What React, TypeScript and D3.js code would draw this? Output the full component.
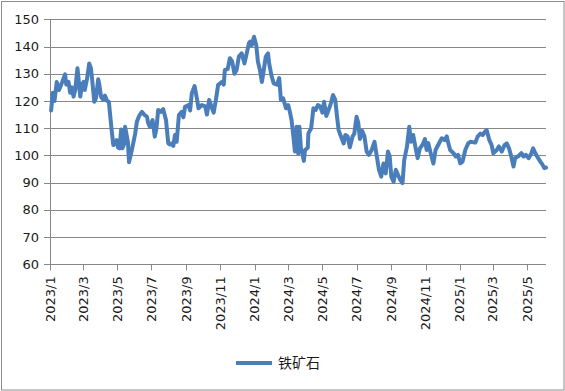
import React from 'react';
import * as d3 from 'd3';

// 铁矿石 price series
const dates = [
  '2023-01-03', '2023-01-06', '2023-01-09', '2023-01-13', '2023-01-17', '2023-01-21', '2023-01-28', '2023-01-30',
  '2023-02-03', '2023-02-06', '2023-02-09', '2023-02-12', '2023-02-15', '2023-02-19', '2023-02-21', '2023-02-24',
  '2023-02-27', '2023-03-02', '2023-03-04', '2023-03-08', '2023-03-12', '2023-03-15', '2023-03-17', '2023-03-21',
  '2023-03-24', '2023-03-28', '2023-03-30', '2023-04-02', '2023-04-06', '2023-04-09', '2023-04-13', '2023-04-16',
  '2023-04-21', '2023-04-24', '2023-04-27', '2023-04-30', '2023-05-02', '2023-05-05', '2023-05-08', '2023-05-10',
  '2023-05-13', '2023-05-15', '2023-05-20', '2023-05-22', '2023-05-27', '2023-05-30', '2023-06-02', '2023-06-05',
  '2023-06-09', '2023-06-14', '2023-06-18', '2023-06-23', '2023-06-25', '2023-06-28', '2023-07-03', '2023-07-07',
  '2023-07-10', '2023-07-13', '2023-07-18', '2023-07-22', '2023-07-27', '2023-07-31', '2023-08-03', '2023-08-06',
  '2023-08-09', '2023-08-12', '2023-08-15', '2023-08-19', '2023-08-24', '2023-08-27', '2023-08-30', '2023-09-05',
  '2023-09-08', '2023-09-11', '2023-09-16', '2023-09-20', '2023-09-23', '2023-09-29', '2023-10-05', '2023-10-08',
  '2023-10-12', '2023-10-17', '2023-10-20', '2023-10-24', '2023-10-28', '2023-11-04', '2023-11-07', '2023-11-09',
  '2023-11-14', '2023-11-18', '2023-11-22', '2023-11-26', '2023-11-30', '2023-12-04', '2023-12-09', '2023-12-14',
  '2023-12-18', '2023-12-22', '2023-12-24', '2023-12-27', '2023-12-31', '2024-01-04', '2024-01-07', '2024-01-11',
  '2024-01-14', '2024-01-17', '2024-01-21', '2024-01-25', '2024-01-27', '2024-01-31', '2024-02-04', '2024-02-10',
  '2024-02-14', '2024-02-17', '2024-02-21', '2024-02-26', '2024-03-01', '2024-03-04', '2024-03-07', '2024-03-10',
  '2024-03-13', '2024-03-16', '2024-03-19', '2024-03-21', '2024-03-24', '2024-03-26', '2024-03-29', '2024-03-31',
  '2024-04-05', '2024-04-06', '2024-04-11', '2024-04-15', '2024-04-19', '2024-04-23', '2024-04-27', '2024-05-01',
  '2024-05-04', '2024-05-08', '2024-05-12', '2024-05-16', '2024-05-20', '2024-05-24', '2024-05-27', '2024-05-30',
  '2024-06-03', '2024-06-08', '2024-06-11', '2024-06-15', '2024-06-19', '2024-06-24', '2024-06-27', '2024-07-01',
  '2024-07-04', '2024-07-07', '2024-07-11', '2024-07-15', '2024-07-19', '2024-07-23', '2024-07-28', '2024-08-02',
  '2024-08-06', '2024-08-10', '2024-08-14', '2024-08-18', '2024-08-22', '2024-08-26', '2024-08-29', '2024-09-01',
  '2024-09-05', '2024-09-09', '2024-09-13', '2024-09-17', '2024-09-21', '2024-09-24', '2024-09-29', '2024-10-03',
  '2024-10-06', '2024-10-10', '2024-10-15', '2024-10-18', '2024-10-22', '2024-10-27', '2024-10-31', '2024-11-03',
  '2024-11-06', '2024-11-11', '2024-11-15', '2024-11-19', '2024-11-24', '2024-11-30', '2024-12-05', '2024-12-09',
  '2024-12-11', '2024-12-15', '2024-12-21', '2024-12-25', '2024-12-29', '2025-01-02', '2025-01-06', '2025-01-11',
  '2025-01-16', '2025-01-20', '2025-01-29', '2025-02-02', '2025-02-07', '2025-02-11', '2025-02-15', '2025-02-18',
  '2025-02-23', '2025-02-27', '2025-03-02', '2025-03-08', '2025-03-12', '2025-03-17', '2025-03-22', '2025-03-26',
  '2025-03-30', '2025-04-03', '2025-04-07', '2025-04-10', '2025-04-16', '2025-04-21', '2025-04-25', '2025-04-29',
  '2025-05-04', '2025-05-09', '2025-05-12', '2025-05-16', '2025-05-21', '2025-05-25', '2025-05-29', '2025-06-01',
  '2025-06-04',
];

const ironOre = [
  116.5, 123, 120, 127, 124, 126, 129.8, 126,
  127, 123, 125, 121.6, 124, 132, 128, 121.6,
  126, 127, 124, 128, 133.8, 132, 128.3, 119.7,
  121, 128, 126, 121.6, 120.4, 122, 120, 119.7,
  109.3, 103.8, 104.5, 105.6, 103, 102.6, 109.5, 102.6,
  104, 110.5, 105, 97.5, 102, 105, 108, 112.4,
  114.5, 116, 115, 114.2, 112, 110.5, 113, 106.9,
  110, 116.7, 116, 117, 113, 104.4, 104, 104.4,
  103.5, 107.5, 105, 114.8, 116, 114, 117.9, 118.5,
  116.5, 122.8, 125.5, 121, 117.3, 118.5, 118, 115,
  120.4, 117.4, 115.7, 120.4, 125.9, 127, 126, 131.4,
  131.7, 135.7, 134.5, 130, 131.4, 136.3, 137.5, 133.8,
  137.5, 141.2, 141.8, 140.5, 143.6, 140.5, 134.4, 131,
  127, 130.8, 136.3, 137.5, 133.8, 129.5, 126.5, 126,
  128.4, 120.4, 121, 117.3, 118.5, 116, 113, 107.5,
  101.4, 110.5, 100.7, 110.5, 102, 101, 98, 102,
  102.8, 108.1, 110, 117.3, 116.7, 118.5, 118, 115.7,
  119.7, 114.5, 116.7, 119, 122.2, 120.4, 114.5, 109.3,
  107, 104.4, 107.5, 107, 103, 107, 108, 114.2,
  112, 106, 109, 107, 101.4, 100.2, 102, 105,
  99.8, 94.7, 92.2, 97, 93.4, 101.4, 99.8, 92.2,
  90.3, 94.7, 92.8, 91, 89.8, 98.3, 103.3, 110.5,
  105, 107.5, 102, 99, 102.6, 104, 106, 102,
  104.5, 100.2, 97, 102, 104, 106.3, 105.6, 107,
  105, 102, 100.8, 99.6, 100.2, 97.1, 97.7, 102,
  104.4, 105, 104.7, 106.9, 108, 107.5, 108.7, 109.3,
  105.6, 103.8, 100.8, 102, 103.3, 101.4, 103.8, 104.4,
  102.6, 99.6, 95.9, 99, 99.8, 100.8, 99.6, 100.2,
  99, 100.8, 102.6, 100.8, 99, 97.7, 96.5, 95.3,
  95.5,
];

const yTicks = [60, 70, 80, 90, 100, 110, 120, 130, 140, 150];
const xTickDates = [
  '2023-01-01', '2023-03-01', '2023-05-01', '2023-07-01', '2023-09-01', '2023-11-01',
  '2024-01-01', '2024-03-01', '2024-05-01', '2024-07-01', '2024-09-01', '2024-11-01',
  '2025-01-01', '2025-03-01', '2025-05-01',
];
const seriesName = '铁矿石';

const W = 565;
const H = 391;
const plot = { left: 50, right: 546, top: 19.3, bottom: 264.3 };
const lineColor = '#4a7ebb';
const gridColor = '#878787';
const font = '"DejaVu Sans", sans-serif';

const parse = d3.timeParse('%Y-%m-%d');

const App: React.FC = () => {
  const data = dates.map((d, i) => ({ date: parse(d) as Date, value: ironOre[i] }));

  const x = d3.scaleTime()
    .domain([parse('2023-01-01') as Date, parse('2025-06-04') as Date])
    .range([plot.left, plot.right]);

  const y = d3.scaleLinear()
    .domain([60, 150])
    .range([plot.bottom, plot.top]);

  const line = d3.line<{ date: Date; value: number }>()
    .x(d => x(d.date))
    .y(d => y(d.value));

  const fmt = (d: Date) => `${d.getFullYear()}/${d.getMonth() + 1}`;

  return (
    <svg width={W} height={H} style={{ position: 'absolute', left: 0, top: 0 }}>
      <rect x={0} y={0} width={W} height={H} fill="#fff" />
      <rect x={1.5} y={1.5} width={562.5} height={388.5} fill="none" stroke="#8c8c8c" />

      {/* horizontal grid + y ticks */}
      {yTicks.map(t => (
        <g key={t}>
          <line x1={plot.left - 6} x2={plot.right} y1={Math.round(y(t)) + 0.5} y2={Math.round(y(t)) + 0.5}
            stroke={gridColor} strokeWidth={1} />
          <text x={39} y={y(t)} dy="0.35em" textAnchor="end" fontFamily={font} fontSize={13} fill="#1a1a1a">
            {t}
          </text>
        </g>
      ))}

      {/* y axis line */}
      <line x1={plot.left + 0.5} x2={plot.left + 0.5} y1={plot.top} y2={plot.bottom} stroke={gridColor} />

      {/* x ticks and labels */}
      {xTickDates.map(s => {
        const d = parse(s) as Date;
        const px = Math.round(x(d)) + 0.5;
        return (
          <g key={s}>
            <line x1={px} x2={px} y1={plot.bottom} y2={plot.bottom + 6} stroke={gridColor} />
            <text transform={`translate(${x(d)},${plot.bottom + 12}) rotate(-90)`} dy="0.35em"
              textAnchor="end" fontFamily={font} fontSize={13} fill="#1a1a1a">
              {fmt(d)}
            </text>
          </g>
        );
      })}

      <path d={line(data) || ''} fill="none" stroke={lineColor} strokeWidth={4}
        strokeLinejoin="round" strokeLinecap="round" />

      {/* legend */}
      <line x1={236} x2={272} y1={363} y2={363} stroke={lineColor} strokeWidth={4} />
      <text x={278} y={363} dy="0.36em" fontFamily='"Noto Sans CJK SC", sans-serif' fontSize={14} fill="#1a1a1a">
        {seriesName}
      </text>
    </svg>
  );
};

export default App;
